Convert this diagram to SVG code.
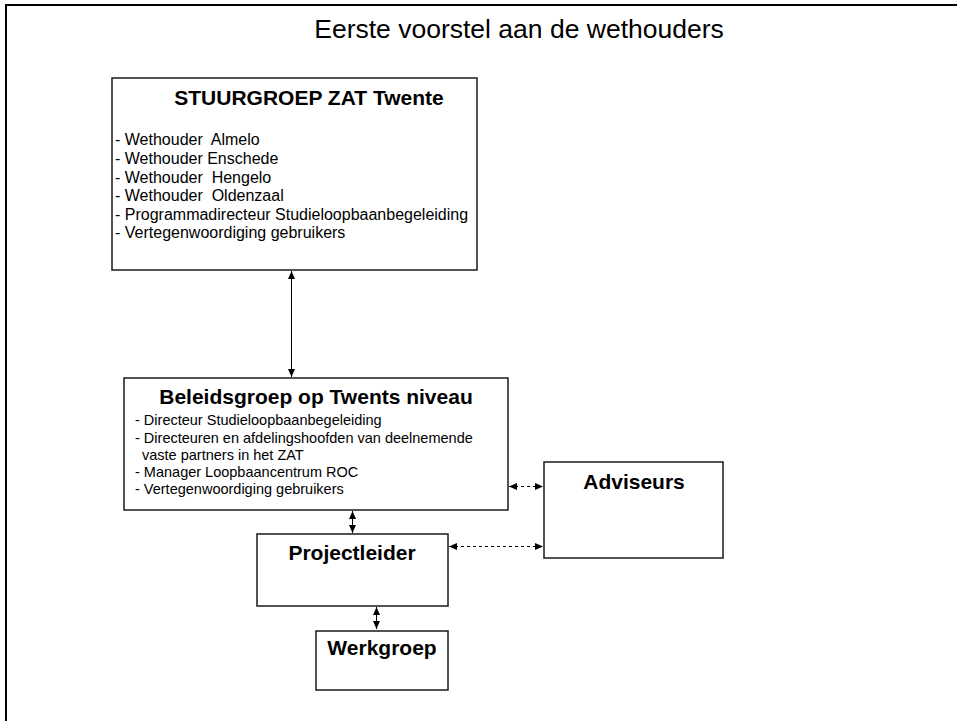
<svg xmlns="http://www.w3.org/2000/svg" width="957" height="721" viewBox="0 0 957 721">
<style>
text{font-family:"Liberation Sans",Arial,sans-serif;fill:#000;white-space:pre}
.t{font-weight:bold;font-size:21px;text-anchor:middle}
.l1{font-size:16px}
.l2{font-size:14.5px}
.box{fill:#fff;stroke:#1a1a1a;stroke-width:1.5}
.c{stroke:#000;stroke-width:1;fill:none;marker-start:url(#a);marker-end:url(#a)}
.d{stroke-dasharray:3 3}
</style>
<defs>
<marker id="a" viewBox="0 0 8 8" refX="8" refY="4" markerWidth="8" markerHeight="8" markerUnits="userSpaceOnUse" orient="auto-start-reverse">
<path d="M0,0.5 L8,4 L0,7.5 Z" fill="#000"/>
</marker>
</defs>
<rect width="957" height="721" fill="#fff"/>
<path d="M6,721 V5 H957" fill="none" stroke="#000" stroke-width="2"/>
<text x="519" y="38" font-size="26.5" text-anchor="middle">Eerste voorstel aan de wethouders</text>

<g id="connectors">
<line class="c" x1="291.5" y1="271" x2="291.5" y2="377"/>
<line class="c" x1="352.5" y1="511" x2="352.5" y2="533"/>
<line class="c" x1="376.5" y1="607" x2="376.5" y2="629"/>
<line class="c d" x1="509" y1="486.5" x2="543" y2="486.5"/>
<line class="c d" x1="449" y1="546.5" x2="543" y2="546.5"/>
</g>

<g id="stuurgroep">
<rect class="box" x="112" y="78" width="365" height="192"/>
<text class="t" x="309" y="105">STUURGROEP ZAT Twente</text>
<text class="l1" x="115" y="145" xml:space="preserve">- Wethouder  Almelo</text>
<text class="l1" x="115" y="164">- Wethouder Enschede</text>
<text class="l1" x="115" y="182.5" xml:space="preserve">- Wethouder  Hengelo</text>
<text class="l1" x="115" y="201" xml:space="preserve">- Wethouder  Oldenzaal</text>
<text class="l1" x="115" y="220">- Programmadirecteur Studieloopbaanbegeleiding</text>
<text class="l1" x="115" y="238">- Vertegenwoordiging gebruikers</text>
</g>

<g id="beleidsgroep">
<rect class="box" x="124" y="378" width="384" height="132"/>
<text class="t" x="316" y="404">Beleidsgroep op Twents niveau</text>
<text class="l2" x="135" y="425">- Directeur Studieloopbaanbegeleiding</text>
<text class="l2" x="135" y="443">- Directeuren en afdelingshoofden van deelnemende</text>
<text class="l2" x="142" y="460">vaste partners in het ZAT</text>
<text class="l2" x="135" y="477">- Manager Loopbaancentrum ROC</text>
<text class="l2" x="135" y="494">- Vertegenwoordiging gebruikers</text>
</g>

<g id="adviseurs">
<rect class="box" x="544" y="462" width="179" height="96"/>
<text class="t" x="634" y="489">Adviseurs</text>
</g>

<g id="projectleider">
<rect class="box" x="257" y="534" width="191" height="72"/>
<text class="t" x="352" y="560">Projectleider</text>
</g>

<g id="werkgroep">
<rect class="box" x="316" y="631" width="132" height="59"/>
<text class="t" x="382" y="655">Werkgroep</text>
</g>
</svg>
